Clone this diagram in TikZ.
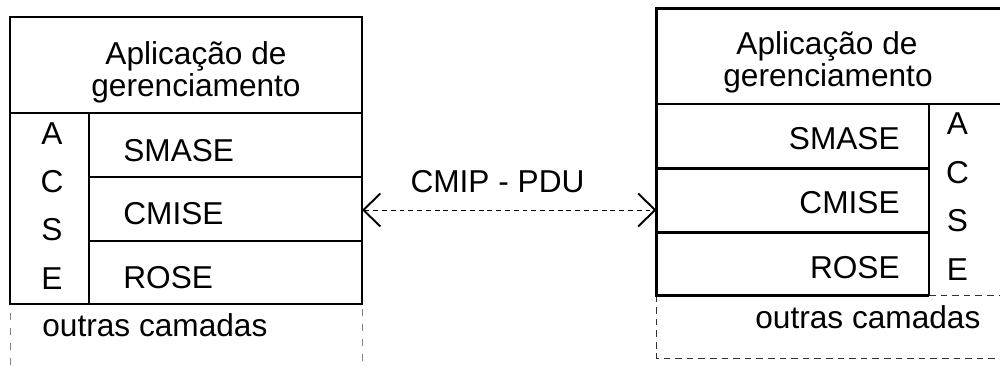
\documentclass[tikz,border=0pt]{standalone}
\usepackage{fontspec}
\setmainfont{Liberation Sans}
\usetikzlibrary{arrows.meta}

\definecolor{LowerGray}{RGB}{130,130,130}
\definecolor{LowerDark}{RGB}{50,50,50}

\tikzset{
	layer/.style={line width=1.3pt},
	lower/.style={line width=0.55pt, dash pattern=on 4pt off 4.5pt, LowerGray},
	lowerdark/.style={line width=0.55pt, dash pattern=on 3.8pt off 2.8pt, LowerDark},
	link/.style={line width=0.55pt, dash pattern=on 2.8pt off 2.2pt},
	label/.style={font=\fontsize{18pt}{22pt}\selectfont, inner sep=0pt}
}

\begin{document}
\begin{tikzpicture}

	\useasboundingbox (0,0) rectangle (20,7.3);

	% Lower layers (dashed)

	\draw [lower] (0.2,0) -- (0.2,1.22) -- (7.24,1.22) -- (7.24,0);
	\draw [lowerdark] (13.13,1.39) -- (13.13,0.14) -- (20,0.14);
	\draw [lowerdark] (18.58,1.39) -- (20,1.39);

	% Main rectangles

	\draw [layer] (0.2,1.22) rectangle (7.24,6.96);
	\draw [layer] (20,7.13) -- (13.13,7.13) -- (13.13,1.39) -- (18.58,1.39);

	% Inner rectangles

	\draw [layer] (0.2,5.04) -- (7.24,5.04);
	\draw [layer] (1.78,5.04) -- (1.78,1.22);
	\draw [layer] (1.78,3.76) -- (7.24,3.76);
	\draw [layer] (1.78,2.48) -- (7.24,2.48);

	\draw [layer] (13.13,5.22) -- (20,5.22);
	\draw [layer] (18.58,5.22) -- (18.58,1.39);
	\draw [layer] (13.13,3.93) -- (18.58,3.93);
	\draw [layer] (13.13,2.65) -- (18.58,2.65);

	% Labels

	\node [label, anchor=base] (lapp1) at (3.92,6.0) {Aplicação de};
	\node [label, anchor=base] (lapp2) at (3.92,5.37) {gerenciamento};
	\node [label, anchor=base west] (lsmase) at (2.46,4.06) {SMASE};
	\node [label, anchor=base west] (lcmise) at (2.46,2.8) {CMISE};
	\node [label, anchor=base west] (lrose) at (2.46,1.53) {ROSE};
	\node [label, anchor=base west] (lother) at (0.84,0.57) {outras camadas};
	\foreach \letter [count=\i] in {A,C,S,E}
		\node [label, anchor=base] (lacse\i) at (1.04,4.4-0.96*\i+0.96) {\letter};

	\node [label, anchor=base] (rapp1) at (16.54,6.2) {Aplicação de};
	\node [label, anchor=base] (rapp2) at (16.56,5.57) {gerenciamento};
	\node [label, anchor=base east] (rsmase) at (18.0,4.3) {SMASE};
	\node [label, anchor=base east] (rcmise) at (18.0,3.03) {CMISE};
	\node [label, anchor=base east] (rrose) at (18.0,1.73) {ROSE};
	\node [label, anchor=base west] (rother) at (15.1,0.73) {outras camadas};
	\foreach \letter [count=\i] in {A,C,S,E}
		\node [label, anchor=base] (racse\i) at (19.15,4.6-0.967*\i+0.967) {\letter};

	% Connection

	\coordinate (lport) at (7.24,3.1);
	\coordinate (rport) at (13.13,3.1);
	\draw [link, {Straight Barb[length=0.34cm, width=0.66cm, line width=1.1pt]}-{Straight Barb[length=0.34cm, width=0.66cm, line width=1.1pt]}] (lport) -- (rport);
	\node [label, anchor=base] (pdu) at (9.95,3.44) {CMIP - PDU};

\end{tikzpicture}
\end{document}
